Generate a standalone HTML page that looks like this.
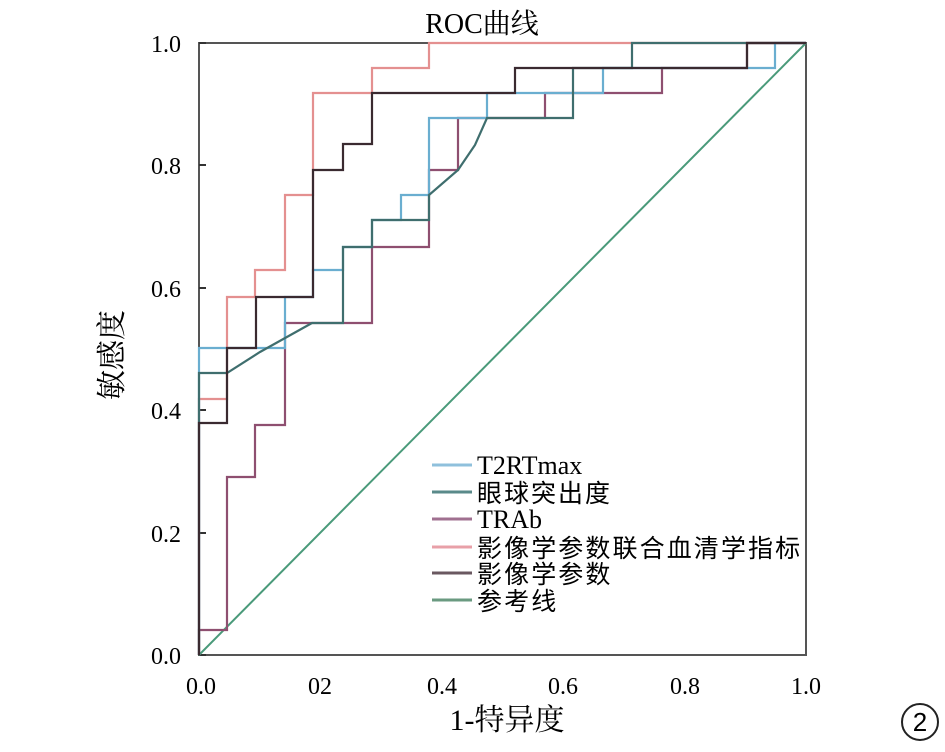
<!DOCTYPE html>
<html><head><meta charset="utf-8"><style>
body{margin:0;background:#fff;width:945px;height:747px;overflow:hidden}
</style></head><body>
<svg width="945" height="747" xmlns="http://www.w3.org/2000/svg" style="font-family:'Liberation Serif','Noto Serif CJK SC',serif">
<rect width="945" height="747" fill="#fff"/>
<text x="482" y="33" font-size="28" text-anchor="middle">ROC曲线</text>
<rect x="199" y="43" width="607" height="612" fill="none" stroke="#555" stroke-width="2"/>
<g stroke="#333" stroke-width="2">
<line x1="199" y1="655" x2="206" y2="655"/><line x1="199" y1="533" x2="206" y2="533"/><line x1="199" y1="410" x2="206" y2="410"/><line x1="199" y1="288" x2="206" y2="288"/><line x1="199" y1="165" x2="206" y2="165"/><line x1="199" y1="43" x2="206" y2="43"/>
</g>
<g font-size="24" text-anchor="end">
<text x="181" y="664">0.0</text><text x="181" y="542">0.2</text><text x="181" y="419">0.4</text><text x="181" y="297">0.6</text><text x="181" y="174">0.8</text><text x="181" y="52">1.0</text>
</g>
<g font-size="24" text-anchor="middle">
<text x="201" y="694">0.0</text><text x="320" y="694">02</text><text x="442" y="694">0.4</text><text x="563" y="694">0.6</text><text x="685" y="694">0.8</text><text x="806" y="694">1.0</text>
</g>
<text x="507" y="730" font-size="30" text-anchor="middle">1-特异度</text>
<text transform="translate(122,355) rotate(-90)" font-size="30" text-anchor="middle">敏感度</text>
<line x1="199" y1="655" x2="806" y2="43" stroke="#4a9a7a" stroke-width="2"/>
<g fill="none" stroke-width="2.2">
<polyline stroke="#e49090" points="199,655 199,399 227,399 227,297 255,297 255,270 285,270 285,195 313,195 313,93 372,93 372,68 429,68 429,43 806,43"/>
<polyline stroke="#8e4f70" points="199,655 199,630 227,630 227,477 255,477 255,425 285,425 285,323 372,323 372,247 429,247 429,170 458,170 458,118 545,118 545,93 662,93 662,68 747,68 747,43 806,43"/>
<polyline stroke="#6aaed0" points="199,655 199,348 285,348 285,297 313,297 313,270 343,270 343,247 372,247 372,220 401,220 401,195 429,195 429,118 487,118 487,93 603,93 603,68 775,68 775,43 806,43"/>
<polyline stroke="#3f6e6e" points="199,655 199,373 227,373 260,352 312,323 343,323 343,247 372,247 372,220 429,220 429,195 458,170 475,145 487,118 573,118 573,68 632,68 632,43 806,43"/>
<polyline stroke="#3a2a30" points="199,655 199,423 227,423 227,348 256,348 256,297 313,297 313,170 343,170 343,144 372,144 372,93 515,93 515,68 747,68 747,43 806,43"/>
</g>
<g stroke-width="3">
<line x1="432" y1="465" x2="472" y2="465" stroke="#8fc0dc"/>
<line x1="432" y1="492" x2="472" y2="492" stroke="#5a8a8a"/>
<line x1="432" y1="519" x2="472" y2="519" stroke="#a07090"/>
<line x1="432" y1="547" x2="472" y2="547" stroke="#e8a0a8"/>
<line x1="432" y1="573" x2="472" y2="573" stroke="#6a5860"/>
<line x1="432" y1="600" x2="472" y2="600" stroke="#6a9a80"/>
</g>
<g font-size="25" font-family="'Liberation Serif','Noto Sans CJK SC',serif">
<text x="477" y="474" font-size="26">T2RTmax</text>
<text x="477" y="502" letter-spacing="2">眼球突出度</text>
<text x="477" y="528" font-size="26">TRAb</text>
<text x="477" y="557" letter-spacing="2.1">影像学参数联合血清学指标</text>
<text x="477" y="583" letter-spacing="2.1">影像学参数</text>
<text x="477" y="610" letter-spacing="2.1">参考线</text>
</g>
<circle cx="920" cy="722" r="18" fill="none" stroke="#222" stroke-width="2"/>
<text x="920" y="731" font-size="26" text-anchor="middle" font-family="'Liberation Sans',sans-serif">2</text>
</svg>
</body></html>
